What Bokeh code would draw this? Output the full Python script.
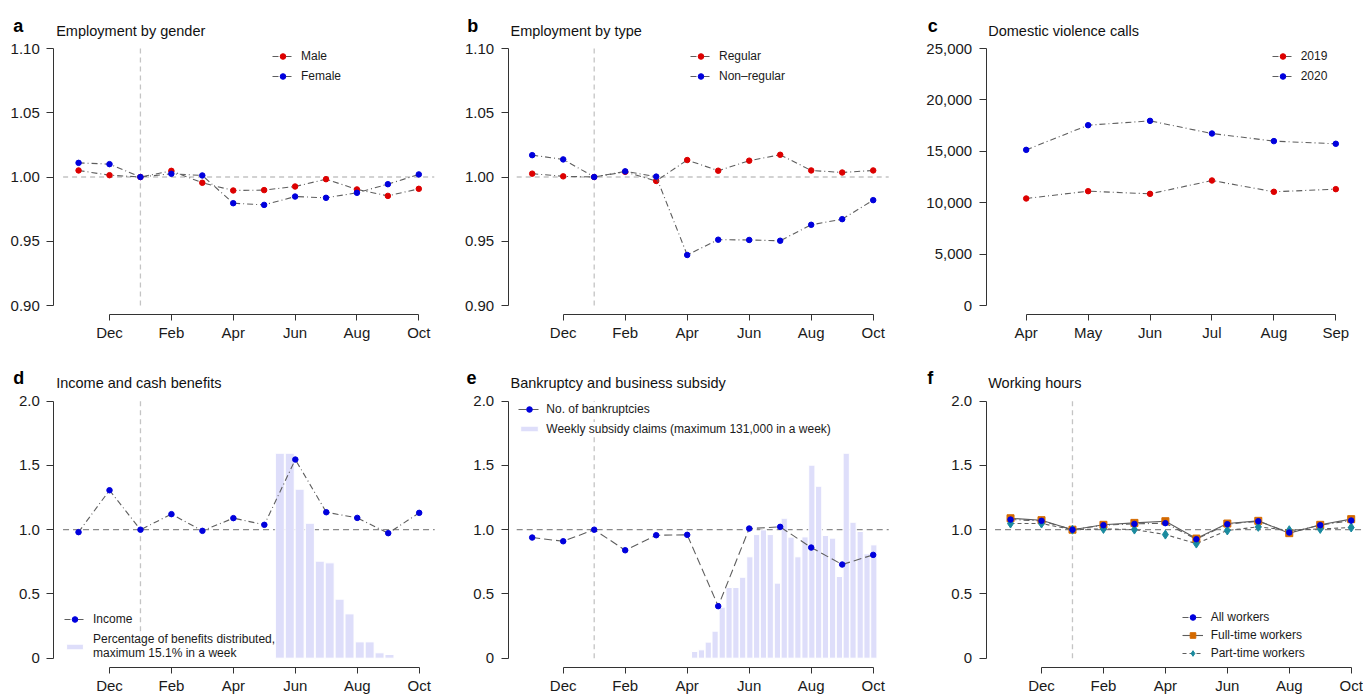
from bokeh.plotting import figure
from bokeh.models import Range1d, FixedTicker, Label, Legend, LegendItem, NumeralTickFormatter
from bokeh.layouts import row, column
from bokeh.embed import file_html
from bokeh.resources import INLINE

# ---------------- data ----------------
# month index: 11 = Nov 2019 ... 22 = Oct 2020
months = [11, 12, 13, 14, 15, 16, 17, 18, 19, 20, 21, 22]
month_ticks = [12, 14, 16, 18, 20, 22]
month_tick_labels = ["Dec", "Feb", "Apr", "Jun", "Aug", "Oct"]
baseline_month = 13  # Jan 2020

male = [1.0051, 1.0014, 1.0000, 1.0048, 0.9955, 0.9895, 0.9898, 0.9926, 0.9983, 0.9903, 0.9853, 0.9908]
female = [1.0110, 1.0100, 1.0000, 1.0025, 1.0012, 0.9796, 0.9783, 0.9848, 0.9838, 0.9877, 0.9944, 1.0020]

regular = [1.0026, 1.0005, 1.0000, 1.0040, 0.9969, 1.0132, 1.0049, 1.0127, 1.0173, 1.0051, 1.0035, 1.0051]
nonregular = [1.0170, 1.0137, 1.0000, 1.0044, 1.0003, 0.9393, 0.9512, 0.9510, 0.9504, 0.9628, 0.9672, 0.9820]

dv_x = [0, 1, 2, 3, 4, 5]
dv_labels = ["Apr", "May", "Jun", "Jul", "Aug", "Sep"]
dv_2019 = [10410, 11120, 10860, 12160, 11060, 11320]
dv_2020 = [15140, 17540, 17960, 16730, 15990, 15730]

income = [0.981, 1.307, 1.000, 1.121, 0.991, 1.090, 1.038, 1.546, 1.136, 1.092, 0.973, 1.131]
benefit_x = [17.50, 17.82, 18.14, 18.47, 18.79, 19.11, 19.43, 19.75, 20.08, 20.40, 20.72, 21.04]
benefit_h = [1.595, 1.595, 1.315, 1.050, 0.755, 0.742, 0.459, 0.345, 0.127, 0.127, 0.042, 0.029]

bankrupt = [0.939, 0.910, 1.000, 0.840, 0.957, 0.960, 0.405, 1.009, 1.022, 0.861, 0.729, 0.804]
subsidy_x = [16.24, 16.46, 16.68, 16.90, 17.13, 17.35, 17.57, 17.79, 18.02, 18.24, 18.46, 18.68, 18.91,
             19.13, 19.35, 19.57, 19.80, 20.02, 20.24, 20.46, 20.69, 20.91, 21.13, 21.35, 21.58, 21.80, 22.02]
subsidy_h = [0.052, 0.065, 0.125, 0.210, 0.397, 0.550, 0.550, 0.630, 0.789, 0.962, 0.999, 0.962, 0.584,
             1.089, 0.942, 0.789, 0.944, 1.502, 1.338, 0.955, 0.934, 0.636, 1.595, 1.058, 0.986, 0.812, 0.882]

hours_all = [1.079, 1.069, 1.000, 1.035, 1.045, 1.051, 0.926, 1.043, 1.066, 0.978, 1.035, 1.071]
hours_full = [1.089, 1.074, 1.000, 1.038, 1.053, 1.066, 0.931, 1.048, 1.069, 0.973, 1.038, 1.082]
hours_part = [1.048, 1.048, 1.000, 1.006, 1.001, 0.962, 0.892, 0.994, 1.022, 0.996, 1.006, 1.017]

# ---------------- style ----------------
FONT = "Liberation Sans"
AX = "#333333"
RED = "#DD0000"
BLUE = "#0000DD"
ORANGE = "#D46A00"
TEAL = "#1A8A9E"
LINE = "#5E5E5E"
BAR = "#DEDEFA"
REF_LIGHT = "#C4C4C4"
REF_DARK = "#8A8A8A"
DOTDASH = "6 3 1 3"
MS = 5.5


class Panel:
    """Figure whose frame fills the whole canvas; axes are placed at fixed
    locations computed from a pixel layout (R-style detached axes)."""

    def __init__(self, w, h, ox, oy, xcal, ycal, yaxis_px, xaxis_px):
        self.w, self.h, self.ox, self.oy = w, h, ox, oy
        (px1, v1), (px2, v2) = xcal
        (py1, u1), (py2, u2) = ycal
        self.x_at = lambda px: v1 + (px - px1) * (v2 - v1) / (px2 - px1)
        self.y_at = lambda py: u1 + (py - py1) * (u2 - u1) / (py2 - py1)
        p = figure(width=w, height=h, title=None,
                   x_range=Range1d(self.x_at(ox), self.x_at(ox + w)),
                   y_range=Range1d(self.y_at(oy + h), self.y_at(oy)),
                   output_backend="svg", toolbar_location=None,
                   min_border=0, min_border_left=0, min_border_right=0,
                   min_border_top=0, min_border_bottom=0)
        p.outline_line_color = None
        p.grid.visible = False
        p.background_fill_color = "white"
        p.border_fill_color = "white"
        for ax in (p.xaxis[0], p.yaxis[0]):
            ax.axis_line_color = AX
            ax.axis_line_width = 1
            ax.major_tick_line_color = AX
            ax.minor_tick_line_color = None
            ax.major_tick_in = 0
            ax.major_label_text_font = FONT
            ax.major_label_text_font_size = "15px"
            ax.major_label_text_font_style = "normal"
            ax.major_label_text_color = "#1a1a1a"
        p.xaxis.major_tick_out = 6
        p.yaxis.major_tick_out = 7
        p.xaxis.major_label_standoff = 3
        p.yaxis.major_label_standoff = 7
        p.yaxis.fixed_location = self.x_at(yaxis_px)
        p.xaxis.fixed_location = self.y_at(xaxis_px)
        self.p = p

    def sx(self, ref_x):
        return ref_x - self.ox

    def sy(self, ref_y):
        return self.h - (ref_y - self.oy)

    def titles(self, letter, lx, ly, title, tx, ty):
        self.p.add_layout(Label(x=self.sx(lx), y=self.sy(ly), x_units="screen", y_units="screen",
                                text=letter, text_font=FONT, text_font_style="bold",
                                text_font_size="18px", text_baseline="alphabetic",
                                text_color="#000000"))
        self.p.add_layout(Label(x=self.sx(tx), y=self.sy(ty), x_units="screen", y_units="screen",
                                text=title, text_font=FONT, text_font_size="14.5px",
                                text_baseline="alphabetic", text_color="#111111"))

    def legend(self, items, ref_left, ref_bottom, spacing=6, gw=21, gh=14, standoff=8):
        lg = Legend(items=items, location=(self.sx(ref_left), self.sy(ref_bottom)),
                    padding=0, margin=0, border_line_color=None,
                    background_fill_color="white", background_fill_alpha=1.0,
                    glyph_width=gw, glyph_height=gh, label_height=14, label_width=10,
                    spacing=spacing, label_standoff=standoff, label_text_font=FONT,
                    label_text_font_size="12px", label_text_color="#1a1a1a")
        self.p.add_layout(lg)


def month_axis(p):
    p.xaxis.ticker = FixedTicker(ticks=month_ticks)
    p.xaxis.major_label_overrides = dict(zip(month_ticks, month_tick_labels))
    p.xaxis.bounds = (month_ticks[0], month_ticks[-1])


def series(p, x, y, color, dash, marker="circle", size=MS, lw=1.1):
    ln = p.line(x, y, line_color=LINE, line_width=lw, line_dash=dash)
    sc = p.scatter(x, y, marker=marker, size=size, fill_color=color, line_color=color)
    return [ln, sc]


def ref_lines(p, y_lo, y_hi, hcolor, hdash):
    p.segment(x0=[10.5], y0=[1.0], x1=[22.5], y1=[1.0], line_color=hcolor, line_width=1.3, line_dash=hdash)
    p.segment(x0=[baseline_month], y0=[y_lo], x1=[baseline_month], y1=[y_hi],
              line_color=REF_LIGHT, line_width=1.3, line_dash="5 4")


W_A, W_B, W_C = 452, 453, 458
TOP_H, BOT_H = 348, 346

# ---------------- panel a ----------------
A = Panel(W_A, TOP_H, 0, 0, ((109.0, 12), (418.3, 22)), ((48.0, 1.10), (305.0, 0.90)), 53.3, 314.3)
pa = A.p
month_axis(pa)
pa.yaxis.ticker = FixedTicker(ticks=[0.90, 0.95, 1.00, 1.05, 1.10])
pa.yaxis.formatter = NumeralTickFormatter(format="0.00")
pa.yaxis.bounds = (0.90, 1.10)
ref_lines(pa, 0.90, 1.10, REF_LIGHT, "5 4")
r_m = series(pa, months, male, RED, DOTDASH)
r_f = series(pa, months, female, BLUE, DOTDASH)
A.legend([LegendItem(label="Male", renderers=r_m), LegendItem(label="Female", renderers=r_f)], 272, 83)
A.titles("a", 12.7, 25, "Employment by gender", 55.7, 30)

# ---------------- panel b ----------------
B = Panel(W_B, TOP_H, 452, 0, ((562.7, 12), (872.7, 22)), ((48.0, 1.10), (305.0, 0.90)), 507.7, 314.3)
pb = B.p
month_axis(pb)
pb.yaxis.ticker = FixedTicker(ticks=[0.90, 0.95, 1.00, 1.05, 1.10])
pb.yaxis.formatter = NumeralTickFormatter(format="0.00")
pb.yaxis.bounds = (0.90, 1.10)
ref_lines(pb, 0.90, 1.10, REF_LIGHT, "5 4")
r_r = series(pb, months, regular, RED, DOTDASH)
r_n = series(pb, months, nonregular, BLUE, DOTDASH)
B.legend([LegendItem(label="Regular", renderers=r_r), LegendItem(label="Non\u2013regular", renderers=r_n)], 690, 83)
B.titles("b", 466.7, 25, "Employment by type", 510, 30)

# ---------------- panel c ----------------
C = Panel(W_C, TOP_H, 905, 0, ((1025.7, 0), (1335.3, 5)), ((48.0, 25000), (305.0, 0)), 985.7, 314.3)
pc = C.p
pc.xaxis.ticker = FixedTicker(ticks=dv_x)
pc.xaxis.major_label_overrides = dict(zip(dv_x, dv_labels))
pc.xaxis.bounds = (dv_x[0], dv_x[-1])
pc.yaxis.ticker = FixedTicker(ticks=[0, 5000, 10000, 15000, 20000, 25000])
pc.yaxis.formatter = NumeralTickFormatter(format="0,0")
pc.yaxis.bounds = (0, 25000)
r_19 = series(pc, dv_x, dv_2019, RED, DOTDASH)
r_20 = series(pc, dv_x, dv_2020, BLUE, DOTDASH)
C.legend([LegendItem(label="2019", renderers=r_19), LegendItem(label="2020", renderers=r_20)], 1271.7, 83)
C.titles("c", 927.3, 25, "Domestic violence calls", 987.7, 30)

ticks02 = [0, 0.5, 1.0, 1.5, 2.0]


def axis02(p):
    p.yaxis.ticker = FixedTicker(ticks=ticks02)
    p.yaxis.formatter = NumeralTickFormatter(format="0.0")
    p.yaxis.major_label_overrides = {0: "0"}
    p.yaxis.bounds = (0, 2.0)


# ---------------- panel d ----------------
D = Panel(W_A, BOT_H, 0, 348, ((109.0, 12), (418.7, 22)), ((400.7, 2.0), (657.7, 0.0)), 53.3, 667.3)
pd_ = D.p
month_axis(pd_)
axis02(pd_)
ref_lines(pd_, 0, 2.0, REF_DARK, "6 4")
r_bar_d = pd_.vbar(x=benefit_x, top=benefit_h, bottom=0, width=0.29, fill_color=BAR, line_color="white", line_width=1)
r_inc = series(pd_, months, income, BLUE, DOTDASH)
D.legend([LegendItem(label="Income", renderers=r_inc)], 64, 626)
D.legend([LegendItem(label="Percentage of benefits distributed,\nmaximum 15.1% in a week", renderers=[r_bar_d])],
         64, 660, gh=7)
D.titles("d", 12.7, 377, "Income and cash benefits", 55.7, 382.7)

# ---------------- panel e ----------------
E = Panel(W_B, BOT_H, 452, 348, ((562.7, 12), (872.7, 22)), ((400.7, 2.0), (657.7, 0.0)), 507.7, 667.3)
pe = E.p
month_axis(pe)
axis02(pe)
ref_lines(pe, 0, 2.0, REF_DARK, "6 4")
r_bar_e = pe.vbar(x=subsidy_x, top=subsidy_h, bottom=0, width=0.2, fill_color=BAR, line_color="white", line_width=1)
r_bk = series(pe, months, bankrupt, BLUE, "8 4")
E.legend([LegendItem(label="No. of bankruptcies", renderers=r_bk)], 518.3, 416, gw=22, standoff=6)
E.legend([LegendItem(label="Weekly subsidy claims (maximum 131,000 in a week)", renderers=[r_bar_e])],
         518.3, 435.7, gw=22, gh=7, standoff=6)
E.titles("e", 466, 377, "Bankruptcy and business subsidy", 510, 382.7)

# ---------------- panel f ----------------
F = Panel(W_C, BOT_H, 905, 348, ((1041.0, 12), (1350.7, 22)), ((400.7, 2.0), (657.7, 0.0)), 985.7, 667.3)
pf = F.p
month_axis(pf)
axis02(pf)
ref_lines(pf, 0, 2.0, REF_DARK, "6 4")
ln_full = pf.line(months, hours_full, line_color=LINE, line_width=1.1)
ln_part = pf.line(months, hours_part, line_color=LINE, line_width=1.1, line_dash="4 3")
ln_all = pf.line(months, hours_all, line_color=LINE, line_width=1.1, line_dash=DOTDASH)
sc_full = pf.scatter(months, hours_full, marker="square", size=7, fill_color=ORANGE, line_color=ORANGE)
sc_part = pf.scatter(months, hours_part, marker="diamond", size=9, fill_color=TEAL, line_color=TEAL)
sc_all = pf.scatter(months, hours_all, marker="circle", size=MS, fill_color=BLUE, line_color=BLUE)
F.legend([LegendItem(label="All workers", renderers=[ln_all, sc_all]),
          LegendItem(label="Full-time workers", renderers=[ln_full, sc_full]),
          LegendItem(label="Part-time workers", renderers=[ln_part, sc_part])],
         1181.7, 659.7, spacing=4)
F.titles("f", 926.7, 377, "Working hours", 987.7, 382.7)

layout = column(row(pa, pb, pc), row(pd_, pe, pf))
open("out.html", "w").write(file_html(layout, INLINE))
